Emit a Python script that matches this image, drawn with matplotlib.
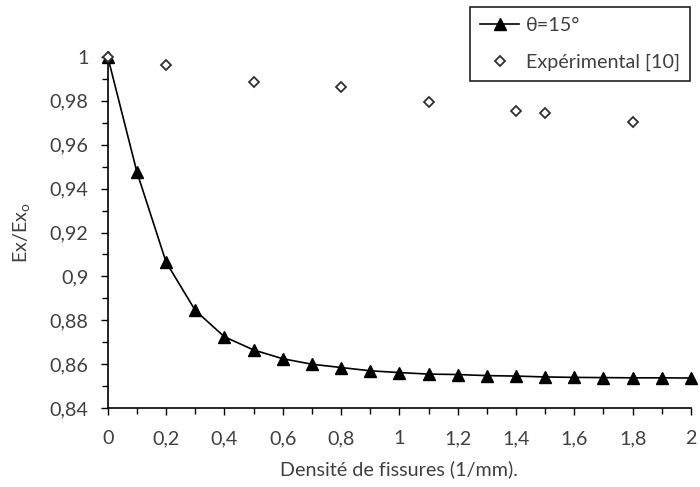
import numpy as np
import matplotlib.pyplot as plt
from matplotlib.ticker import MultipleLocator, FuncFormatter

# courbe theta = 15 deg
densite = [0, 0.1, 0.2, 0.3, 0.4, 0.5, 0.6, 0.7, 0.8, 0.9, 1.0,
           1.1, 1.2, 1.3, 1.4, 1.5, 1.6, 1.7, 1.8, 1.9, 2.0]
ex_theta15 = [1.0, 0.9475, 0.9065, 0.8845, 0.8725, 0.8665, 0.8625, 0.8600,
              0.8585, 0.8570, 0.8562, 0.8555, 0.8553, 0.8548, 0.8546, 0.8542,
              0.8540, 0.8539, 0.8538, 0.8538, 0.8537]

# points experimentaux
densite_exp = [0, 0.2, 0.5, 0.8, 1.1, 1.4, 1.5, 1.8]
ex_exp = [1.0, 0.9965, 0.9887, 0.9861, 0.9797, 0.9752, 0.9745, 0.9704]

plt.rcParams['font.family'] = ['Lato', 'DejaVu Sans']
gris = '#404040'
taille = 14.2

fig = plt.figure(figsize=(7, 4.87), dpi=100)
ax = fig.add_axes([0.154, 0.162, 0.833, 0.721])

ax.plot(densite, ex_theta15, color='black', lw=1.2, marker='^', ms=8,
        label='θ=15°', zorder=3, clip_on=False)
ax.plot(densite_exp, ex_exp, ls='none', marker='D', ms=5.5, mfc='white',
        mec='#303030', mew=1.3, label='Expérimental [10]', zorder=4,
        clip_on=False)

ax.set_xlim(0, 2)
ax.set_ylim(0.84, 1.0)
ax.xaxis.set_major_locator(MultipleLocator(0.2))
ax.xaxis.set_minor_locator(MultipleLocator(0.1))
ax.yaxis.set_major_locator(MultipleLocator(0.02))
ax.yaxis.set_minor_locator(MultipleLocator(0.01))

def virgule(v, pos):
    s = ('%.2f' % v).rstrip('0').rstrip('.')
    return s.replace('.', ',')

ax.xaxis.set_major_formatter(FuncFormatter(virgule))
ax.yaxis.set_major_formatter(FuncFormatter(virgule))

for s in ['top', 'right']:
    ax.spines[s].set_visible(False)
for s in ['left', 'bottom']:
    ax.spines[s].set_linewidth(1.2)
    ax.spines[s].set_color('black')

ax.tick_params(which='both', direction='out', color='black', width=1)
ax.tick_params(which='major', length=5, labelsize=taille, labelcolor=gris)
ax.tick_params(axis='x', which='major', pad=11)
ax.tick_params(axis='y', which='major', pad=9)
ax.tick_params(which='minor', length=4)

ax.set_xlabel('Densité de fissures (1/mm).', fontsize=taille, color=gris, labelpad=9)
ax.set_ylabel('Ex/Ex$_\\mathregular{o}$', fontsize=taille, color=gris, labelpad=12)

leg = ax.legend(loc='upper right', bbox_to_anchor=(0.986, 0.986),
                bbox_transform=fig.transFigure, fontsize=taille, fancybox=False,
                framealpha=1, edgecolor='#222222', handlelength=2.0,
                handletextpad=0.35, labelspacing=1.0, borderpad=0.5,
                borderaxespad=0)
leg.get_frame().set_linewidth(1.2)
for t in leg.get_texts():
    t.set_color(gris)

fig.savefig('out.png', dpi=100)
